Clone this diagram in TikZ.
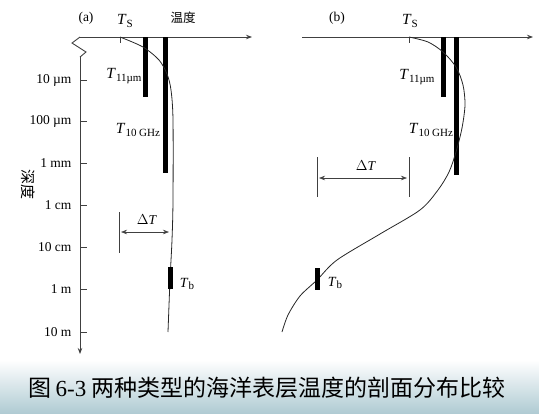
\documentclass[tikz,border=0pt]{standalone}
\usepackage{fontspec}
\setmainfont{Liberation Serif}
\newfontfamily\cjk{Noto Sans CJK SC}
\usetikzlibrary{arrows.meta}

\begin{document}
\begin{tikzpicture}[x=1pt, y=-1pt, >={Stealth[length=6pt,width=4.5pt]},
        axis/.style={draw=black!75, line width=0.9pt},
        tick/.style={draw=black!75, line width=0.6pt},
        tbar/.style={line width=5pt},
        prof/.style={draw=black!85, line width=0.8pt},
        lab/.style={font=\fontsize{13.5}{15}\selectfont},
        tlab/.style={font=\fontsize{15.5}{17}\selectfont}]
    \useasboundingbox (0,0) rectangle (539,413);

    \def\tsym#1{\textit{T}\raisebox{-0.45ex}{\fontsize{11}{12}\selectfont #1}}

    % caption band
    \shade[top color=white, middle color={rgb,255:red,222;green,232;blue,235},
        bottom color={rgb,255:red,176;green,203;blue,211}] (0,360) rectangle (539,413);
    \node[font=\cjk\fontsize{23}{25}\selectfont] (caption) at (267,388)
        {图\hspace{4pt}{\rmfamily 6-3} 两种类型的海洋表层温度的剖面分布比较};

    % panel (a)
    \node[lab] (alabel) at (86,18) {(a)};
    \node[tlab] (atS) at (125,21) {\tsym{S}};
    \node[font=\cjk\fontsize{12.5}{14}\selectfont] (atemp) at (183,18) {温度};

    \coordinate (aorig) at (80,37);
    \coordinate (aend) at (252,37);
    \coordinate (abottom) at (80,354);
    \draw[axis,->] (aorig) -- (aend);
    \draw[axis] (aorig) -- (72,43) -- (86,52) -- (80,57) coordinate (abreak);
    \draw[axis,->] (abreak) -- (abottom);

    \foreach \y/\txt in {80/10 µm, 121/100 µm, 163/1 mm, 205/1 cm, 247/10 cm, 289/1 m, 332/10 m}{
        \draw[tick] (80,\y) -- (87,\y);
        \node[lab, anchor=east] (tk\y) at (75,\y) {\txt};
    }
    \node[font=\cjk\fontsize{15}{16}\selectfont, rotate=-90] (depth) at (28,184) {深度};

    \draw[tick] (120,37) -- (120,43);
    \draw[tbar] (145,37) -- (145,97);
    \draw[tbar] (165,37) -- (165,173);
    \draw[prof] plot[smooth] coordinates {(120,37) (143,47) (159,60) (167,74) (171,90)
        (173,120) (173,200) (172,240) (170,280) (168,332)};
    \draw[tbar] (170,267) -- (170,289);

    \node[tlab] (a11) at (124,76) {\tsym{11µm}};
    \node[tlab] (a10) at (138,130) {\tsym{10 GHz}};
    \node[font=\fontsize{14}{15}\selectfont] (atb) at (187,284) {\tsym{b}};

    \draw[tick] (119,212) -- (119,253);
    \coordinate (adl) at (121,232);
    \coordinate (adr) at (169,232);
    \draw[tick,<->] (adl) -- (adr);
    \node[lab] (adT) at (147,220) {$\Delta$\textit{T}};

    % panel (b)
    \node[lab] (blabel) at (337,18) {(b)};
    \node[tlab] (btS) at (410,21) {\tsym{S}};

    \coordinate (borig) at (302,37);
    \coordinate (bend) at (533,37);
    \draw[axis,->] (borig) -- (bend);

    \draw[tick] (409,37) -- (409,43);
    \draw[tbar] (443,37) -- (443,97);
    \draw[tbar] (456,37) -- (456,175);
    \draw[prof] plot[smooth] coordinates {(409,37) (428,42) (443,52) (456,67) (463,85)
        (465,105) (462,128) (456,152) (449,172) (438,190) (420,210) (380,234)
        (337,260) (317,280) (300,296) (288,315) (282,332)};
    \draw[tbar] (317,268) -- (317,290);

    \node[tlab] (b11) at (417,77) {\tsym{11µm}};
    \node[tlab] (b10) at (431,130) {\tsym{10 GHz}};
    \node[font=\fontsize{14}{15}\selectfont] (btb) at (335,283) {\tsym{b}};

    \draw[tick] (317,157) -- (317,197);
    \draw[tick] (409,157) -- (409,197);
    \coordinate (bdl) at (319,178);
    \coordinate (bdr) at (407,178);
    \draw[tick,<->] (bdl) -- (bdr);
    \node[lab] (bdT) at (366,166) {$\Delta$\textit{T}};
\end{tikzpicture}
\end{document}
